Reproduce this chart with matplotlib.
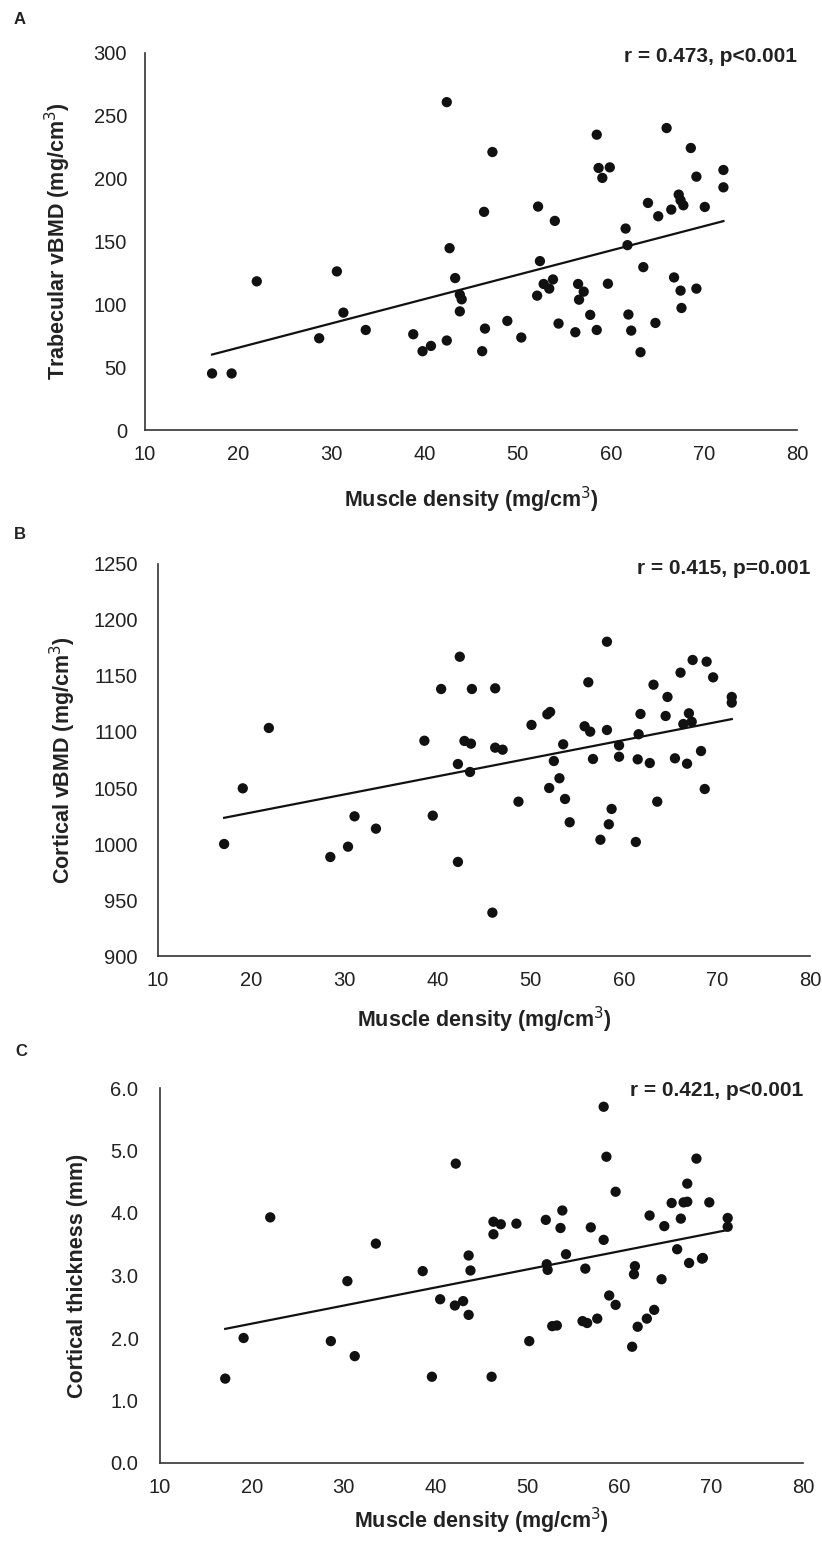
import numpy as np
import matplotlib
matplotlib.use("Agg")
import matplotlib.pyplot as plt

plt.rcParams['font.family'] = ['Liberation Sans', 'DejaVu Sans']

# ---- data ----
# Panel A: trabecular vBMD
a_x = [17.2, 19.3, 22.0, 28.7, 30.6, 31.3, 33.7, 38.8, 39.8, 40.7, 42.4, 42.4, 42.7,
       43.3, 43.8, 44.0, 43.8, 58.5, 66.0, 68.6, 47.3, 58.7, 59.9, 59.1, 72.1, 72.1,
       69.2, 67.3, 67.5, 67.8, 64.0, 66.5, 65.1, 70.1, 52.2, 46.4, 54.0, 61.6, 61.8,
       52.4, 63.5, 66.8, 67.5, 69.2, 67.6, 52.8, 53.8, 53.4, 52.1, 56.5, 57.1, 56.6,
       59.7, 48.9, 57.8, 61.9, 64.8, 46.5, 50.4, 54.4, 56.2, 58.5, 62.2, 46.2, 63.2]
a_y = [45, 45, 118.3, 73, 126.2, 93.4, 79.6, 76.2, 62.7, 66.9, 71.2, 260.9, 144.7,
       120.9, 107.7, 104, 94.4, 235, 240.3, 224.4, 221.2, 208.5, 209, 200.6, 206.9, 193.1,
       201.6, 187.3, 182.8, 178.8, 180.7, 175.4, 170.1, 177.5, 177.8, 173.6, 166.4, 160.3, 147.1,
       134.4, 129.6, 121.4, 110.9, 112.5, 97.1, 116.2, 119.8, 112.5, 106.9, 116.2, 110.1, 103.7,
       116.4, 86.8, 91.6, 91.9, 85.2, 80.7, 73.6, 84.7, 77.8, 79.6, 79.1, 62.7, 61.9]

# Panel B: cortical vBMD
b_x = [17.1, 19.1, 21.9, 28.5, 30.4, 31.1, 33.4, 38.6, 39.5, 40.4, 42.2, 42.2, 42.4,
       42.9, 43.6, 43.5, 43.7, 58.2, 67.4, 68.9, 66.1, 69.6, 56.2, 63.2, 46.2, 64.7,
       71.6, 71.6, 51.8, 52.1, 61.8, 64.5, 67.0, 66.4, 67.3, 50.1, 55.8, 56.4, 58.2,
       61.6, 53.5, 59.5, 59.5, 46.2, 47.0, 56.7, 61.5, 62.8, 65.5, 66.8, 68.3, 52.5,
       53.1, 52.0, 53.7, 68.7, 48.7, 63.6, 58.7, 54.2, 58.4, 57.5, 61.3, 45.9]
b_y = [1000, 1049.7, 1103.6, 988.4, 997.6, 1024.7, 1013.7, 1092.2, 1025.3, 1138.4, 1071.4, 984, 1167.2,
       1092, 1089.6, 1064.3, 1138.4, 1180.6, 1164.3, 1162.8, 1153, 1148.8, 1144.4, 1142.2, 1139, 1131.3,
       1131.3, 1126.2, 1115.8, 1117.9, 1116.1, 1114.3, 1116.7, 1107.1, 1109.2, 1106.3, 1105.1, 1100.3, 1101.8,
       1098, 1089, 1088.1, 1077.9, 1086, 1084.2, 1075.9, 1075.6, 1072.3, 1076.5, 1071.7, 1083, 1074.1,
       1058.7, 1050, 1040.2, 1049.1, 1037.8, 1037.8, 1031.3, 1019.4, 1017.6, 1003.8, 1001.8, 938.7]

# Panel C: cortical thickness
c_x = [42.2, 22.0, 33.5, 30.4, 38.6, 43.6, 43.8, 40.5, 42.1, 43.0, 43.6, 19.1, 28.6,
       31.2, 17.1, 39.6, 58.3, 58.6, 68.4, 67.4, 59.6, 65.7, 67.0, 67.4, 69.8, 71.8,
       71.8, 63.3, 66.7, 64.9, 53.8, 52.0, 53.6, 56.9, 58.3, 46.3, 47.1, 46.3, 48.8,
       54.2, 52.1, 52.2, 56.3, 61.7, 61.6, 66.3, 67.6, 69.0, 69.1, 64.6, 58.9, 59.6,
       63.8, 63.0, 62.0, 61.4, 52.7, 53.2, 56.0, 56.5, 57.6, 50.2, 46.1]
c_y = [4.79, 3.93, 3.51, 2.91, 3.07, 3.32, 3.08, 2.62, 2.52, 2.59, 2.37, 2.00, 1.95,
       1.71, 1.35, 1.38, 5.70, 4.90, 4.87, 4.47, 4.34, 4.16, 4.17, 4.18, 4.17, 3.92,
       3.78, 3.96, 3.91, 3.79, 4.04, 3.89, 3.76, 3.77, 3.57, 3.86, 3.82, 3.66, 3.83,
       3.34, 3.18, 3.09, 3.11, 3.15, 3.02, 3.42, 3.20, 3.27, 3.28, 2.94, 2.68, 2.53,
       2.45, 2.31, 2.18, 1.86, 2.19, 2.20, 2.27, 2.24, 2.31, 1.95, 1.38]

panel_letters = ["A", "B", "C"]
y_labels = ["Trabecular vBMD (mg/cm$^{3}$)", "Cortical vBMD (mg/cm$^{3}$)",
            "Cortical thickness (mm)"]
x_label = "Muscle density (mg/cm$^{3}$)"
stats = ["r = 0.473, p<0.001", "r = 0.415, p=0.001", "r = 0.421, p<0.001"]
y_ticks = [np.arange(0, 301, 50), np.arange(900, 1251, 50), np.arange(0, 6.01, 1.0)]
y_fmt = ["{:.0f}", "{:.0f}", "{:.1f}"]
x_ticks = np.arange(10, 81, 10)

W, H = 822, 1546
fig = plt.figure(figsize=(W / 100, H / 100), dpi=100)

# layout in pixels
boxes = [(145, 797, 53, 430), (158, 810, 564, 956), (160, 803, 1088, 1463)]  # l, r, t, b
ylab_px = [58, 63, 78]          # y-label centre x
xlab_py = [500, 1020, 1521]     # x-label centre y
ypad = [13, 14.5, 15.5]
stat_py = [57, 568, 1091]
letter_px = [(20, 20), (20, 535), (21, 1052)]

data = [(a_x, a_y), (b_x, b_y), (c_x, c_y)]

for i, (xs, ys) in enumerate(data):
    l, r, t, b = boxes[i]
    ax = fig.add_axes([l / W, 1 - b / H, (r - l) / W, (b - t) / H])
    xs = np.array(xs)
    ys = np.array(ys)
    ax.scatter(xs, ys, s=55, color="#111111", edgecolors="none", zorder=3)

    # linear trend line
    k, c0 = np.polyfit(xs, ys, 1)
    xl = np.array([xs.min(), xs.max()])
    ax.plot(xl, k * xl + c0, color="#111111", lw=1.6, zorder=2)

    ax.set_xlim(10, 80)
    ax.set_ylim(y_ticks[i][0], y_ticks[i][-1])
    ax.set_xticks(x_ticks)
    ax.set_yticks(y_ticks[i])
    ax.set_yticklabels([y_fmt[i].format(v) for v in y_ticks[i]])
    ax.tick_params(length=0, labelsize=14.5, colors="#222222")
    ax.tick_params(axis="x", pad=11)
    ax.tick_params(axis="y", pad=ypad[i])
    for s in ["top", "right"]:
        ax.spines[s].set_visible(False)
    for s in ["left", "bottom"]:
        ax.spines[s].set_color("#333333")
        ax.spines[s].set_linewidth(1.2)

    ax.set_xlabel(x_label, fontsize=15.5, fontweight="bold", color="#222222")
    ax.xaxis.set_label_coords(0.5, (b - xlab_py[i]) / (b - t))
    ax.xaxis.label.set_va("center")
    ax.set_ylabel(y_labels[i], fontsize=15.5, fontweight="bold", color="#222222")
    ax.yaxis.set_label_coords((ylab_px[i] - l) / (r - l), 0.5)
    ax.yaxis.label.set_va("center")

    ax.text(1.0, (b - stat_py[i]) / (b - t), stats[i], transform=ax.transAxes,
            ha="right", va="center", fontsize=15, fontweight="bold", color="#222222")

    lx, ly = letter_px[i]
    fig.text(lx / W, 1 - ly / H, panel_letters[i], fontsize=12, fontweight="bold",
             ha="center", va="center", color="#222222")

fig.savefig("out.png", dpi=100)
